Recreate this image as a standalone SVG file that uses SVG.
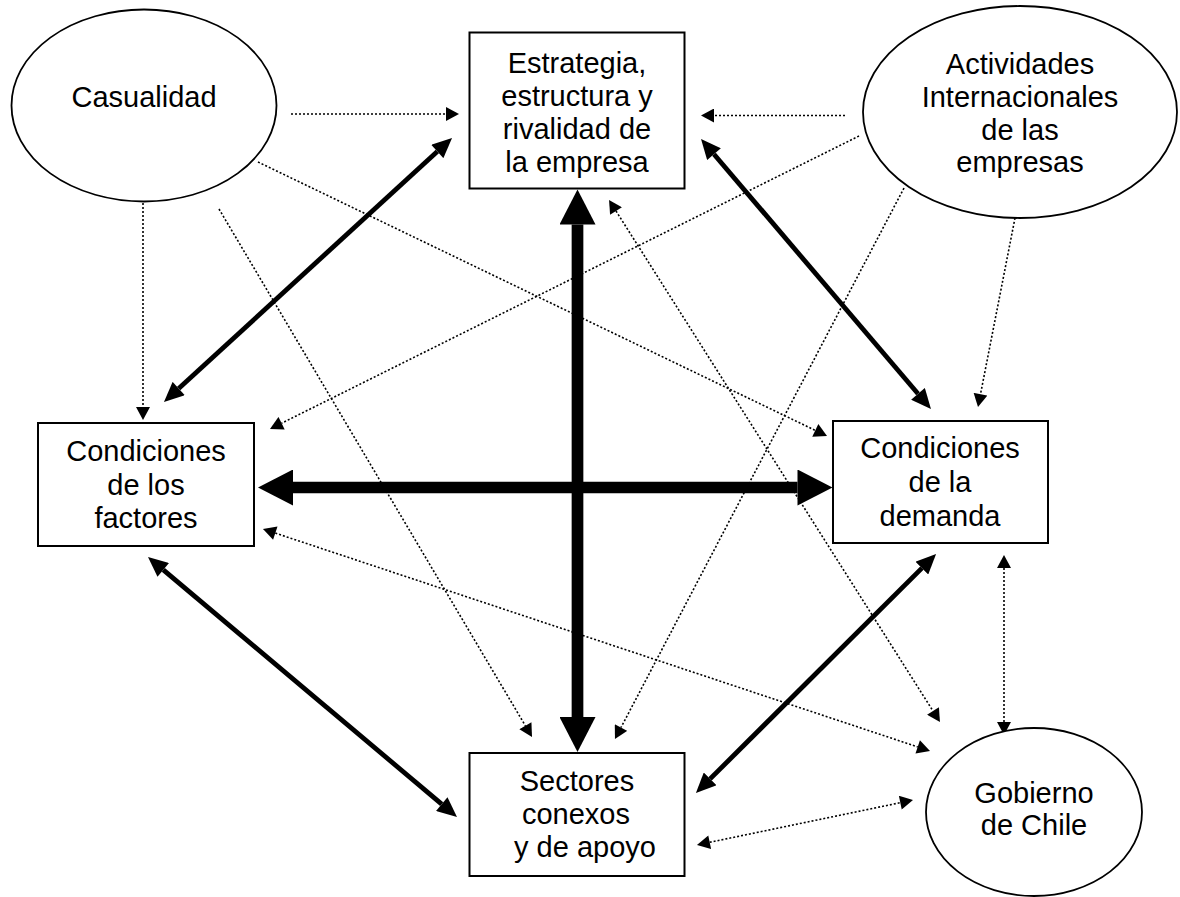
<svg xmlns="http://www.w3.org/2000/svg" width="1180" height="897" viewBox="0 0 1180 897">
<style>
.node{fill:#fff;stroke:#000;stroke-width:2}
.ell{fill:#fff;stroke:#000;stroke-width:1.8}
text{font-family:"Liberation Sans",Arial,sans-serif;font-size:29px;fill:#000;text-anchor:middle}
.big{stroke:#000;stroke-width:11.7;fill:none;marker-start:url(#hb);marker-end:url(#hb)}
.med{stroke:#000;stroke-width:4.8;fill:none;marker-start:url(#hm);marker-end:url(#hm)}
.dot{stroke:#000;stroke-width:1.6;stroke-dasharray:2 2;fill:none;marker-end:url(#hd)}
.dot2{stroke:#000;stroke-width:1.6;stroke-dasharray:2 2;fill:none;marker-start:url(#hd);marker-end:url(#hd)}
</style>
<defs>
<marker id="hb" markerUnits="userSpaceOnUse" markerWidth="36" markerHeight="36" viewBox="0 0 35 36" refX="0" refY="18" orient="auto-start-reverse"><path d="M0,0 L35,18 L0,36 z" fill="#000"/></marker>
<marker id="hm" markerUnits="userSpaceOnUse" markerWidth="21" markerHeight="18" viewBox="0 0 20 18" refX="0" refY="9" orient="auto-start-reverse"><path d="M0,0 L20,9 L0,18 z" fill="#000"/></marker>
<marker id="hd" markerUnits="userSpaceOnUse" markerWidth="14" markerHeight="14" viewBox="0 0 13 14" refX="0" refY="7" orient="auto-start-reverse"><path d="M0,0 L13,7 L0,14 z" fill="#000"/></marker>
</defs>

<g id="connectors">
<line class="big" x1="577.5" y1="224.5" x2="577.5" y2="717"/>
<line class="big" x1="293" y1="487.5" x2="797.5" y2="487.5"/>
<line class="med" x1="437.3" y1="151.5" x2="178.7" y2="388.5"/>
<line class="med" x1="714" y1="154.2" x2="918" y2="393.8"/>
<line class="med" x1="163.3" y1="569.9" x2="441.7" y2="804.1"/>
<line class="med" x1="921.9" y1="568.1" x2="710.1" y2="778.9"/>
<line class="dot" x1="291" y1="114" x2="446" y2="114"/>
<line class="dot" x1="845" y1="115.5" x2="714" y2="115.5"/>
<line class="dot" x1="143" y1="203" x2="143" y2="407"/>
<line class="dot" x1="258" y1="162" x2="815.3" y2="430.4"/>
<line class="dot" x1="219" y1="209" x2="525.4" y2="725.8"/>
<line class="dot" x1="859" y1="136" x2="281.6" y2="423.2"/>
<line class="dot" x1="904" y1="188" x2="621" y2="727.5"/>
<line class="dot" x1="1015" y1="218" x2="980.5" y2="394.2"/>
<line class="dot2" x1="616" y1="211" x2="933" y2="711"/>
<line class="dot2" x1="275.3" y1="533.1" x2="917.7" y2="746.9"/>
<line class="dot2" x1="709.7" y1="842.3" x2="900.3" y2="802.7"/>
<line class="dot2" x1="1004" y1="568" x2="1004" y2="722"/>
</g>

<g id="casualidad">
<ellipse class="ell" cx="144" cy="105.5" rx="132.5" ry="96"/>
<text x="144" y="107">Casualidad</text>
</g>

<g id="estrategia">
<rect class="node" x="469.5" y="32.5" width="215" height="156"/>
<text x="577" y="73">Estrategia,</text>
<text x="577" y="106">estructura y</text>
<text x="577" y="139">rivalidad de</text>
<text x="577" y="172">la empresa</text>
</g>

<g id="actividades">
<ellipse class="ell" cx="1020" cy="112" rx="157" ry="106"/>
<text x="1020" y="74">Actividades</text>
<text x="1020" y="106.5">Internacionales</text>
<text x="1020" y="140">de las</text>
<text x="1020" y="172">empresas</text>
</g>

<g id="factores">
<rect class="node" x="38" y="423" width="216" height="123"/>
<text x="146" y="461">Condiciones</text>
<text x="146" y="495">de los</text>
<text x="146" y="528">factores</text>
</g>

<g id="demanda">
<rect class="node" x="833" y="421" width="215" height="122"/>
<text x="940" y="458">Condiciones</text>
<text x="940" y="492">de la</text>
<text x="940" y="525.5">demanda</text>
</g>

<g id="sectores">
<rect class="node" x="469.5" y="753" width="215" height="123"/>
<text x="577" y="791">Sectores</text>
<text x="576" y="824">conexos</text>
<text x="585" y="857">y de apoyo</text>
</g>

<g id="gobierno">
<ellipse class="ell" cx="1034" cy="812" rx="108" ry="84"/>
<text x="1034" y="803">Gobierno</text>
<text x="1034" y="835">de Chile</text>
</g>
</svg>
